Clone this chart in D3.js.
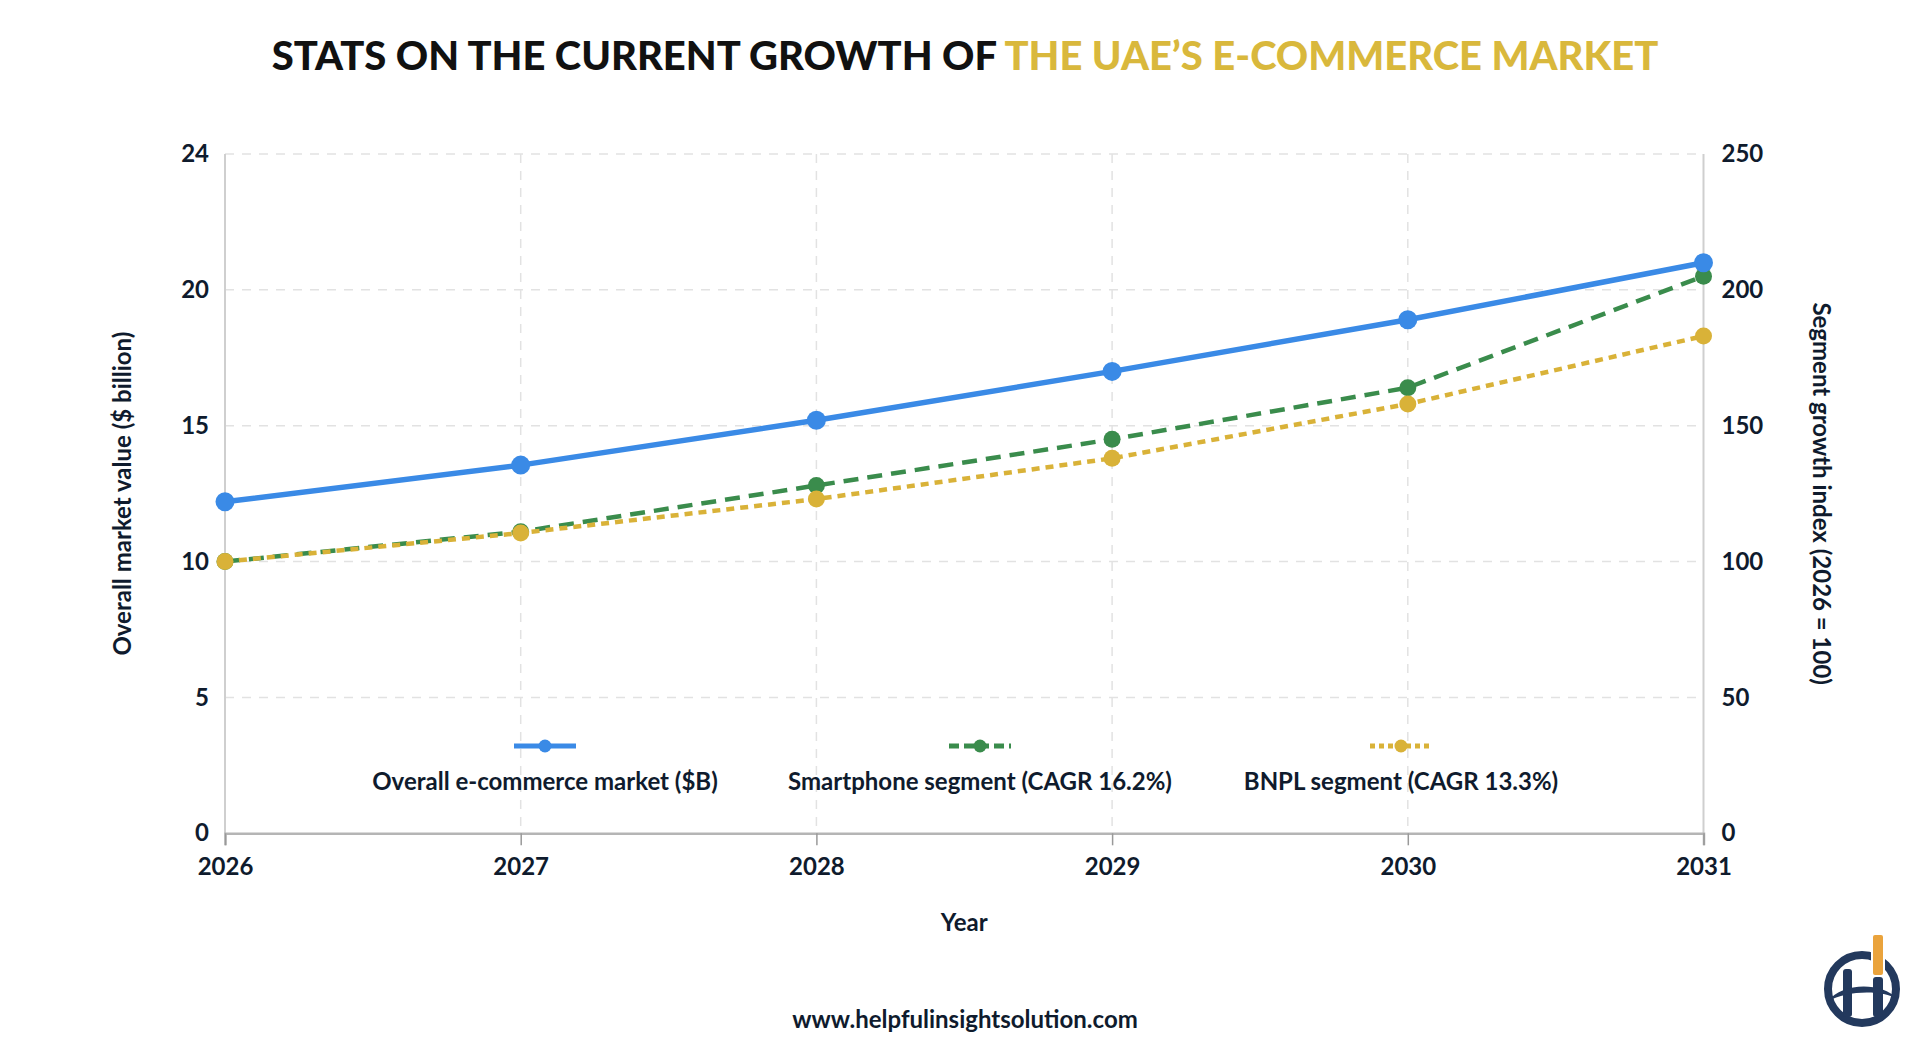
<!DOCTYPE html>
<html>
<head>
<meta charset="utf-8">
<script src="https://cdn.jsdelivr.net/npm/d3@7"></script>
<style>
  html, body { margin: 0; padding: 0; background: #fff; }
  svg { display: block; font-family: Lato, 'Open Sans', sans-serif; }
</style>
</head>
<body>
<svg id="chart" width="1930" height="1058"></svg>
<script>
// data
const years = [2026, 2027, 2028, 2029, 2030, 2031]
const marketValue = [12.2, 13.55, 15.2, 17.0, 18.9, 21.0]
const smartphoneIndex = [100, 111, 128, 145, 164, 205]
const bnplIndex = [100, 110.5, 123, 138, 158, 183]
const rightTicks = [0, 50, 100, 150, 200, 250]
const leftTickLabels = ['0', '5', '10', '15', '20', '24']
const seriesNames = ['Overall e-commerce market ($B)', 'Smartphone segment (CAGR 16.2%)', 'BNPL segment (CAGR 13.3%)']

const ink = '#0f1b2d'
const blue = '#3a8ae6'
const green = '#3a8c4c'
const gold = '#d9b238'

const svg = d3.select('#chart')
const plotLeft = 225, plotRight = 1703.5, plotTop = 154, plotBottom = 833.3

let x = d3.scaleLinear().domain([2026, 2031]).range([plotLeft, plotRight])
let yL = d3.scaleLinear().domain([0, 25]).range([plotBottom, plotTop])
let yR = d3.scaleLinear().domain([0, 250]).range([plotBottom, plotTop])

// title
let title = svg.append('text')
  .attr('x', 965).attr('y', 55)
  .attr('text-anchor', 'middle')
  .attr('dominant-baseline', 'central')
  .style('font-size', '40px').style('font-weight', 900)
  .attr('fill', '#111')
title.append('tspan').text('STATS ON THE CURRENT GROWTH OF ')
title.append('tspan').attr('fill', '#d9b83c').text('THE UAE\u2019S E-COMMERCE MARKET')
let tw = title.node().getComputedTextLength()
title.style('font-size', (40 * 1387 / tw) + 'px')

// grid
let grid = svg.append('g')
grid.selectAll('line.h').data(rightTicks.filter(d => d > 0)).enter().append('line')
  .attr('x1', plotLeft).attr('x2', plotRight)
  .attr('y1', d => yR(d)).attr('y2', d => yR(d))
  .attr('stroke', '#e2e2e2').attr('stroke-width', 1.5).attr('stroke-dasharray', '9 8')
grid.selectAll('line.v').data(years.slice(1, -1)).enter().append('line')
  .attr('y1', plotTop).attr('y2', plotBottom)
  .attr('x1', d => x(d)).attr('x2', d => x(d))
  .attr('stroke', '#e2e2e2').attr('stroke-width', 1.5).attr('stroke-dasharray', '9 8')

// axes frames
svg.append('line').attr('x1', plotLeft).attr('x2', plotLeft).attr('y1', plotTop).attr('y2', plotBottom)
  .attr('stroke', '#cfcfcf').attr('stroke-width', 2)
svg.append('line').attr('x1', plotRight).attr('x2', plotRight).attr('y1', plotTop).attr('y2', plotBottom)
  .attr('stroke', '#cfcfcf').attr('stroke-width', 2)

// x axis
let xAxis = svg.append('g').attr('transform', 'translate(0,' + plotBottom + ')')
  .call(d3.axisBottom(x).tickValues(years).tickFormat(d3.format('d')).tickSize(12).tickPadding(13))
xAxis.select('.domain').attr('stroke', '#b5b5b5').attr('stroke-width', 2.5)
xAxis.selectAll('.tick line').attr('stroke', '#999').attr('stroke-width', 1.5)
xAxis.selectAll('.tick text').attr('fill', ink).style('font-size', '24px').style('font-weight', 700)
  .attr('font-family', 'Lato')

// left axis
let lAxis = svg.append('g').attr('transform', 'translate(' + plotLeft + ',0)')
  .call(d3.axisLeft(yL).tickValues(rightTicks.map(d => d / 10))
    .tickFormat((d, i) => leftTickLabels[i]).tickSize(0).tickPadding(16))
lAxis.select('.domain').remove()
lAxis.selectAll('.tick text').attr('fill', ink).style('font-size', '24px').style('font-weight', 700)
  .attr('font-family', 'Lato')

// right axis
let rAxis = svg.append('g').attr('transform', 'translate(' + plotRight + ',0)')
  .call(d3.axisRight(yR).tickValues(rightTicks).tickSize(0).tickPadding(18))
rAxis.select('.domain').remove()
rAxis.selectAll('.tick text').attr('fill', ink).style('font-size', '24px').style('font-weight', 700)
  .attr('font-family', 'Lato')

// axis titles
svg.append('text').attr('transform', 'translate(121,' + ((plotTop + plotBottom) / 2) + ') rotate(-90)')
  .attr('text-anchor', 'middle').attr('dominant-baseline', 'central')
  .style('font-size', '24px').style('font-weight', 700).attr('fill', ink)
  .text('Overall market value ($ billion)')
svg.append('text').attr('transform', 'translate(1822,' + ((plotTop + plotBottom) / 2) + ') rotate(90)')
  .attr('text-anchor', 'middle').attr('dominant-baseline', 'central')
  .style('font-size', '24px').style('font-weight', 700).attr('fill', ink)
  .text('Segment growth index (2026 = 100)')
svg.append('text').attr('x', (plotLeft + plotRight) / 2).attr('y', 921)
  .attr('text-anchor', 'middle').attr('dominant-baseline', 'central')
  .style('font-size', '24px').style('font-weight', 700).attr('fill', ink).text('Year')

// series
let series = [
  { values: marketValue, y: yL, color: blue, dash: null, r: 9.5 },
  { values: smartphoneIndex, y: yR, color: green, dash: '15 9', r: 8.5 },
  { values: bnplIndex, y: yR, color: gold, dash: '8 6', r: 8.5 }
]
let drawOrder = [1, 2, 0]
drawOrder.forEach(function (k) {
  let s = series[k]
  let line = d3.line().x((d, i) => x(years[i])).y(d => s.y(d))
  svg.append('path').datum(s.values)
    .attr('d', line).attr('fill', 'none')
    .attr('stroke', s.color).attr('stroke-width', k === 0 ? 5.5 : 4.5)
    .attr('stroke-dasharray', s.dash)
  svg.selectAll(null).data(s.values).enter().append('circle')
    .attr('cx', (d, i) => x(years[i])).attr('cy', d => s.y(d))
    .attr('r', s.r).attr('fill', s.color)
})

// legend
let legendX = [545, 980, 1401]
let legend = svg.append('g')
series.forEach(function (s, i) {
  let g = legend.append('g').attr('transform', 'translate(' + legendX[i] + ',0)')
  g.append('line').attr('x1', -31).attr('x2', 31).attr('y1', 746).attr('y2', 746)
    .attr('stroke', s.color).attr('stroke-width', 5)
    .attr('stroke-dasharray', i === 0 ? null : (i === 1 ? '10 5' : '5 4'))
  g.append('circle').attr('cx', 0).attr('cy', 746).attr('r', 6.5).attr('fill', s.color)
  g.append('text').attr('x', 0).attr('y', 780)
    .attr('text-anchor', 'middle').attr('dominant-baseline', 'central')
    .style('font-size', '24px').style('font-weight', 700).attr('fill', ink)
    .text(seriesNames[i])
})

// footer url
svg.append('text').attr('x', 965).attr('y', 1018)
  .attr('text-anchor', 'middle').attr('dominant-baseline', 'central')
  .style('font-size', '24px').style('font-weight', 700).attr('fill', ink)
  .text('www.helpfulinsightsolution.com')

// logo
let logo = svg.append('g').attr('transform', 'translate(1862,989)')
let navy = '#23395d'
logo.append('circle').attr('r', 34).attr('fill', 'none').attr('stroke', navy).attr('stroke-width', 8)
logo.append('rect').attr('x', -19).attr('y', -20).attr('width', 9).attr('height', 48).attr('rx', 3).attr('fill', navy)
logo.append('rect').attr('x', 11).attr('y', -12).attr('width', 10).attr('height', 40).attr('rx', 3).attr('fill', navy)
logo.append('rect').attr('x', 9).attr('y', -48).attr('width', 14).attr('height', 34).attr('fill', '#fff')
logo.append('rect').attr('x', 11).attr('y', -54).attr('width', 10).attr('height', 40).attr('rx', 2).attr('fill', '#eaa33c')
logo.append('path').attr('d', 'M-34,12 C-20,-6 18,-8 36,10 C18,0 -16,2 -34,12 Z').attr('fill', navy)
</script>
</body>
</html>
